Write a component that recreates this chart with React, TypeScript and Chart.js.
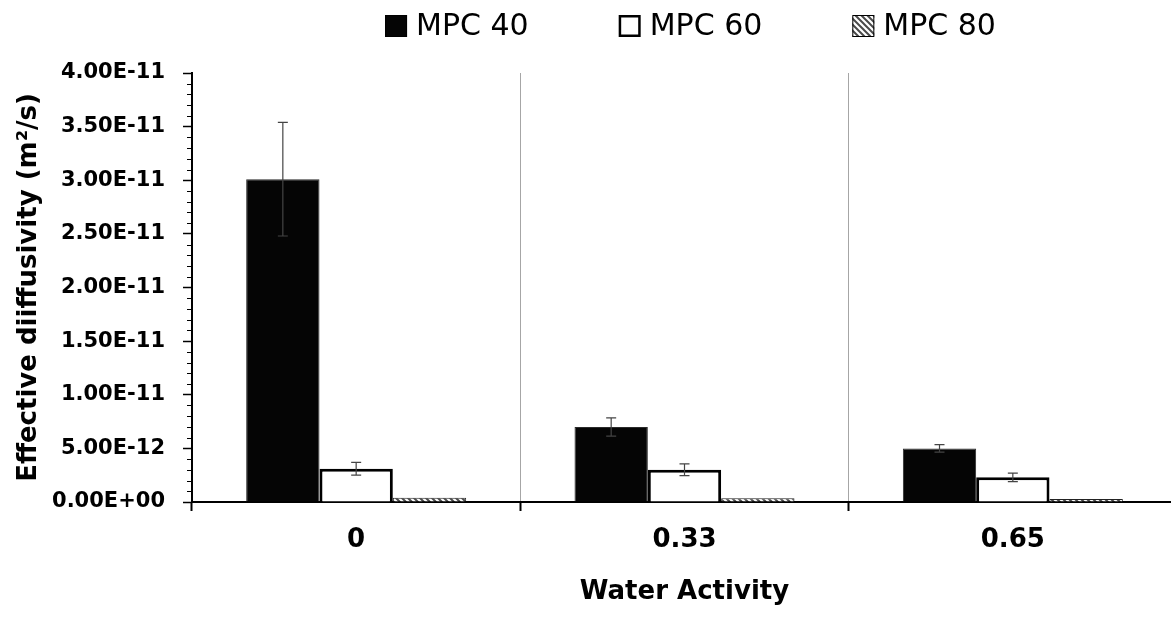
import React, { useEffect, useRef } from 'react';
import { Chart, registerables } from 'chart.js';

Chart.register(...registerables);

// ---- data ----
const categories = ['0', '0.33', '0.65'];
const seriesNames = ['MPC 40', 'MPC 60', 'MPC 80'];
const mpc40 = [3.01e-11, 7.0e-12, 5.0e-12];
const mpc40Err = [5.3e-12, 0.85e-12, 0.35e-12];
const mpc60 = [3.1e-12, 3.0e-12, 2.3e-12];
const mpc60Err = [0.6e-12, 0.55e-12, 0.4e-12];
const mpc80 = [4.0e-13, 3.5e-13, 2.8e-13];
const yTicks = [0, 5e-12, 1e-11, 1.5e-11, 2e-11, 2.5e-11, 3e-11, 3.5e-11, 4e-11];
const yMinorStep = 1e-12;
const xTitle = 'Water Activity';
const yTitle = 'Effective diiffusivity (m²/s)';

const fmt = (v: number) => {
  if (Math.abs(v) < 1e-20) return '0.00E+00';
  const [m, e] = v.toExponential(2).split('e');
  const n = parseInt(e, 10);
  return `${m}E${n < 0 ? '-' : '+'}${String(Math.abs(n)).padStart(2, '0')}`;
};

function makeHatch(): CanvasPattern | string {
  const c = document.createElement('canvas');
  c.width = 6;
  c.height = 6;
  const g = c.getContext('2d');
  if (!g) return '#888';
  g.fillStyle = '#ffffff';
  g.fillRect(0, 0, 6, 6);
  g.strokeStyle = '#4a4a4a';
  g.lineWidth = 2;
  g.beginPath();
  g.moveTo(-1, -1);
  g.lineTo(7, 7);
  g.moveTo(-1, 5);
  g.lineTo(1, 7);
  g.moveTo(5, -1);
  g.lineTo(7, 1);
  g.stroke();
  return g.createPattern(c, 'repeat') || '#888';
}

const errorBarPlugin = {
  id: 'errorBars',
  afterDatasetsDraw(chart: any) {
    const ctx = chart.ctx;
    const yScale = chart.scales.y;
    ctx.save();
    ctx.strokeStyle = '#444';
    ctx.lineWidth = 1.2;
    chart.data.datasets.forEach((ds: any, i: number) => {
      if (!ds.errors) return;
      const meta = chart.getDatasetMeta(i);
      meta.data.forEach((bar: any, j: number) => {
        const v = ds.data[j];
        const e = ds.errors[j];
        const yt = yScale.getPixelForValue(v + e);
        const yb = yScale.getPixelForValue(v - e);
        const x = bar.x;
        ctx.beginPath();
        ctx.moveTo(x, yt);
        ctx.lineTo(x, yb);
        ctx.moveTo(x - 5, yt);
        ctx.lineTo(x + 5, yt);
        ctx.moveTo(x - 5, yb);
        ctx.lineTo(x + 5, yb);
        ctx.stroke();
      });
    });
    ctx.restore();
  },
};

const minorTickPlugin = {
  id: 'minorTicks',
  afterDraw(chart: any) {
    const ctx = chart.ctx;
    const y = chart.scales.y;
    const left = chart.chartArea.left;
    ctx.save();
    ctx.strokeStyle = '#000';
    ctx.lineWidth = 1;
    for (let k = 0; k * yMinorStep <= y.max + 1e-25; k++) {
      if (k % 5 === 0) continue;
      const py = Math.round(y.getPixelForValue(k * yMinorStep)) + 0.5;
      ctx.beginPath();
      ctx.moveTo(left - 5, py);
      ctx.lineTo(left, py);
      ctx.stroke();
    }
    ctx.restore();
  },
};

const legendPlugin = {
  id: 'customLegend',
  afterDraw(chart: any) {
    const ctx = chart.ctx;
    const ca = chart.chartArea;
    ctx.save();
    ctx.font = '30px "DejaVu Sans"';
    const box = 22;
    const gap = 9;
    const spacing = 90;
    const items = chart.data.datasets.map((ds: any) => ({ ds, w: ctx.measureText(ds.label).width }));
    const total =
      items.reduce((a: number, it: any) => a + box + gap + it.w, 0) + spacing * (items.length - 1);
    let x = (ca.left + ca.right) / 2 + 6 - total / 2;
    const yTop = 15;
    items.forEach(({ ds, w }: any) => {
      ctx.fillStyle = ds.backgroundColor;
      ctx.fillRect(x, yTop, box, box);
      ctx.strokeStyle = '#000';
      ctx.lineWidth = ds.borderWidth >= 2 ? 2.5 : 1;
      ctx.strokeRect(x + ctx.lineWidth / 2, yTop + ctx.lineWidth / 2, box - ctx.lineWidth, box - ctx.lineWidth);
      ctx.fillStyle = '#000';
      ctx.textBaseline = 'middle';
      ctx.textAlign = 'left';
      ctx.fillText(ds.label, x + box + gap, yTop + box / 2 + 1);
      x += box + gap + w + spacing;
    });
    ctx.restore();
  },
};

export default function App() {
  const ref = useRef<HTMLCanvasElement | null>(null);

  useEffect(() => {
    if (!ref.current) return;
    const hatch = makeHatch();
    const boldFont = { family: '"DejaVu Sans"', size: 26, weight: 'bold' as const };
    const chart = new Chart(ref.current, {
      type: 'bar',
      data: {
        labels: categories,
        datasets: [
          {
            label: seriesNames[0],
            data: mpc40,
            errors: mpc40Err,
            backgroundColor: '#050505',
            borderColor: '#2a2a2a',
            borderWidth: 1,
            barPercentage: 1,
            categoryPercentage: 0.67,
          } as any,
          {
            label: seriesNames[1],
            data: mpc60,
            errors: mpc60Err,
            backgroundColor: '#ffffff',
            borderColor: '#000000',
            borderWidth: 3,
            barPercentage: 1,
            categoryPercentage: 0.67,
          } as any,
          {
            label: seriesNames[2],
            data: mpc80,
            backgroundColor: hatch,
            borderColor: '#222',
            borderWidth: 1,
            barPercentage: 1,
            categoryPercentage: 0.67,
          } as any,
        ],
      },
      options: {
        animation: false,
        responsive: false,
        maintainAspectRatio: false,
        layout: { padding: { top: 73, left: 0, right: 0, bottom: 0 } },
        plugins: {
          legend: { display: false },
          tooltip: { enabled: false },
        },
        scales: {
          x: {
            offset: true,
            grid: {
              display: true,
              offset: true,
              drawOnChartArea: true,
              color: '#a6a6a6',
              lineWidth: 1,
              drawTicks: true,
              tickLength: 9,
              tickColor: '#000',
              tickWidth: 2,
            },
            border: { display: true, color: '#000', width: 2 },
            ticks: { font: boldFont, color: '#000', padding: 14, maxRotation: 0 },
            title: {
              display: true,
              text: xTitle,
              font: boldFont,
              color: '#000',
              padding: { top: 0, bottom: 9 },
            },
            afterFit: (s: any) => {
              s.height = 115;
            },
          },
          y: {
            min: 0,
            max: 4e-11,
            afterBuildTicks: (s: any) => {
              s.ticks = yTicks.map((v) => ({ value: v }));
            },
            afterFit: (s: any) => {
              s.width = 192;
            },
            grid: {
              display: true,
              drawOnChartArea: false,
              drawTicks: true,
              tickLength: 9,
              tickColor: '#000',
              tickWidth: 1.5,
            },
            border: { display: true, color: '#000', width: 2 },
            ticks: {
              callback: (v: any) => fmt(Number(v)),
              font: { family: '"DejaVu Sans"', size: 21, weight: 'bold' },
              color: '#000',
              padding: 18,
            },
            title: {
              display: true,
              text: yTitle,
              font: boldFont,
              color: '#000',
              padding: { top: 14, bottom: 0 },
            },
          },
        },
      } as any,
      plugins: [errorBarPlugin, minorTickPlugin, legendPlugin],
    });
    return () => chart.destroy();
  }, []);

  return (
    <div
      style={{
        position: 'absolute',
        left: 0,
        top: 0,
        width: 1171,
        height: 617,
        overflow: 'hidden',
        background: '#fff',
      }}
    >
      <canvas ref={ref} width={1177} height={617} style={{ display: 'block', width: 1177, height: 617 }} />
    </div>
  );
}
